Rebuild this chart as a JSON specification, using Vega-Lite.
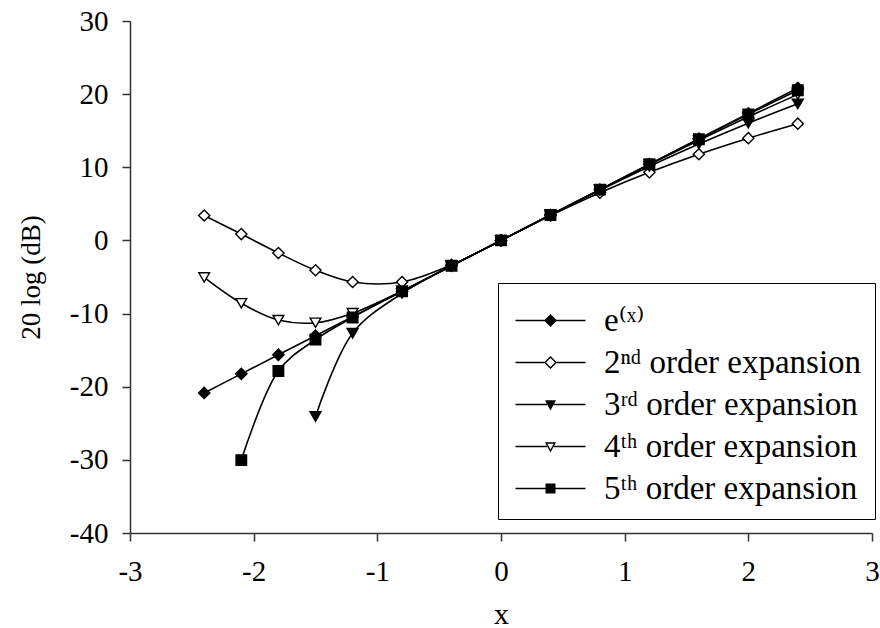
{
  "$schema": "https://vega.github.io/schema/vega-lite/v6.json",
  "width": 742,
  "height": 512,
  "autosize": "none",
  "padding": {"left": 130, "top": 21, "right": 8, "bottom": 95},
  "background": "white",
  "config": {
    "view": {"stroke": null},
    "font": "Liberation Serif",
    "axis": {
      "domainColor": "#333333",
      "domainWidth": 1.5,
      "tickColor": "#333333",
      "tickWidth": 1.5,
      "tickSize": 8,
      "grid": false,
      "labelFont": "Liberation Serif",
      "labelFontSize": 29,
      "labelColor": "black",
      "labelFlush": false,
      "labelOverlap": false,
      "titleFont": "Liberation Serif",
      "titleFontWeight": "normal",
      "titleColor": "black"
    },
    "legend": {
      "title": null,
      "orient": "none",
      "legendX": 368,
      "legendY": 262,
      "padding": 13,
      "strokeColor": "black",
      "fillColor": "white",
      "labelFont": "Liberation Serif, DejaVu Serif",
      "labelFontSize": 33,
      "labelColor": "black",
      "labelOffset": 29,
      "labelLimit": 400,
      "rowPadding": 0,
      "symbolSize": 2352,
      "symbolOffset": 15,
      "symbolOpacity": 1,
      "symbolFillColor": "black",
      "symbolStrokeWidth": 0
    }
  },
  "data": {
    "values": [
      {"series": "e", "x": -2.4, "y": -20.85},
      {"series": "e", "x": -2.1, "y": -18.24},
      {"series": "e", "x": -1.8, "y": -15.63},
      {"series": "e", "x": -1.5, "y": -13.03},
      {"series": "e", "x": -1.2, "y": -10.42},
      {"series": "e", "x": -0.8, "y": -6.95},
      {"series": "e", "x": -0.4, "y": -3.47},
      {"series": "e", "x": 0, "y": 0},
      {"series": "e", "x": 0.4, "y": 3.47},
      {"series": "e", "x": 0.8, "y": 6.95},
      {"series": "e", "x": 1.2, "y": 10.42},
      {"series": "e", "x": 1.6, "y": 13.9},
      {"series": "e", "x": 2.0, "y": 17.37},
      {"series": "e", "x": 2.4, "y": 20.85},
      {"series": "o2", "x": -2.4, "y": 3.41},
      {"series": "o2", "x": -2.1, "y": 0.87},
      {"series": "o2", "x": -1.8, "y": -1.72},
      {"series": "o2", "x": -1.5, "y": -4.08},
      {"series": "o2", "x": -1.2, "y": -5.68},
      {"series": "o2", "x": -0.8, "y": -5.68},
      {"series": "o2", "x": -0.4, "y": -3.35},
      {"series": "o2", "x": 0, "y": 0},
      {"series": "o2", "x": 0.4, "y": 3.41},
      {"series": "o2", "x": 0.8, "y": 6.53},
      {"series": "o2", "x": 1.2, "y": 9.31},
      {"series": "o2", "x": 1.6, "y": 11.78},
      {"series": "o2", "x": 2.0, "y": 13.98},
      {"series": "o2", "x": 2.4, "y": 15.96},
      {"series": "o3", "x": -1.5, "y": -24.08},
      {"series": "o3", "x": -1.2, "y": -12.69},
      {"series": "o3", "x": -0.8, "y": -7.24},
      {"series": "o3", "x": -0.4, "y": -3.49},
      {"series": "o3", "x": 0, "y": 0},
      {"series": "o3", "x": 0.4, "y": 3.47},
      {"series": "o3", "x": 0.8, "y": 6.87},
      {"series": "o3", "x": 1.2, "y": 10.12},
      {"series": "o3", "x": 1.6, "y": 13.18},
      {"series": "o3", "x": 2.0, "y": 16.03},
      {"series": "o3", "x": 2.4, "y": 18.67},
      {"series": "o4", "x": -2.4, "y": -5.06},
      {"series": "o4", "x": -2.1, "y": -8.59},
      {"series": "o4", "x": -1.8, "y": -10.89},
      {"series": "o4", "x": -1.5, "y": -11.26},
      {"series": "o4", "x": -1.2, "y": -9.94},
      {"series": "o4", "x": -0.8, "y": -6.9},
      {"series": "o4", "x": -0.4, "y": -3.47},
      {"series": "o4", "x": 0, "y": 0},
      {"series": "o4", "x": 0.4, "y": 3.47},
      {"series": "o4", "x": 0.8, "y": 6.94},
      {"series": "o4", "x": 1.2, "y": 10.36},
      {"series": "o4", "x": 1.6, "y": 13.69},
      {"series": "o4", "x": 2.0, "y": 16.9},
      {"series": "o4", "x": 2.4, "y": 19.97},
      {"series": "o5", "x": -2.1, "y": -30.03},
      {"series": "o5", "x": -1.8, "y": -17.86},
      {"series": "o5", "x": -1.5, "y": -13.55},
      {"series": "o5", "x": -1.2, "y": -10.53},
      {"series": "o5", "x": -0.8, "y": -6.96},
      {"series": "o5", "x": -0.4, "y": -3.47},
      {"series": "o5", "x": 0, "y": 0},
      {"series": "o5", "x": 0.4, "y": 3.47},
      {"series": "o5", "x": 0.8, "y": 6.95},
      {"series": "o5", "x": 1.2, "y": 10.41},
      {"series": "o5", "x": 1.6, "y": 13.84},
      {"series": "o5", "x": 2.0, "y": 17.23},
      {"series": "o5", "x": 2.4, "y": 20.53}
    ]
  },
  "encoding": {
    "x": {
      "field": "x",
      "type": "quantitative",
      "scale": {"domain": [-3, 3], "nice": false, "zero": false},
      "axis": {
        "values": [-3, -2, -1, 0, 1, 2, 3],
        "labelExpr": "'' + datum.value",
        "labelPadding": 16,
        "title": "x",
        "titleFontSize": 30,
        "titlePadding": 13
      }
    },
    "y": {
      "field": "y",
      "type": "quantitative",
      "scale": {"domain": [-40, 30], "nice": false, "zero": false},
      "axis": {
        "values": [-40, -30, -20, -10, 0, 10, 20, 30],
        "labelExpr": "'' + datum.value",
        "labelPadding": 14,
        "title": "20 log (dB)",
        "titleFontSize": 27,
        "titlePadding": 24
      }
    }
  },
  "resolve": {"scale": {"shape": "independent", "fill": "independent", "size": "independent"}, "legend": {"shape": "independent", "fill": "independent", "size": "independent"}},
  "layer": [
    {
      "mark": {"type": "line", "stroke": "black", "strokeWidth": 1.6, "interpolate": "catmull-rom"},
      "encoding": {"detail": {"field": "series", "type": "nominal"}}
    },
    {
      "mark": {"type": "point", "filled": true, "stroke": "black", "strokeWidth": 1.4, "opacity": 1},
      "encoding": {
        "shape": {
          "field": "series",
          "type": "nominal",
          "scale": {"domain": ["e", "o2", "o3", "o4", "o5"], "range": ["diamond", "diamond", "triangle-down", "triangle-down", "square"]},
          "legend": null
        },
        "fill": {
          "field": "series",
          "type": "nominal",
          "scale": {"domain": ["e", "o2", "o3", "o4", "o5"], "range": ["black", "white", "black", "white", "black"]},
          "legend": null
        },
        "size": {
          "field": "series",
          "type": "nominal",
          "scale": {"domain": ["e", "o2", "o3", "o4", "o5"], "range": [130, 110, 110, 100, 85]},
          "legend": null
        }
      }
    },
    {
      "mark": {"type": "point", "filled": true, "fill": "black", "opacity": 0},
      "encoding": {
        "shape": {
          "field": "series",
          "type": "nominal",
          "scale": {"domain": ["e", "o2", "o3", "o4", "o5"], "range": [
            "M-1.443,-0.031H-0.25V0.031H-1.443ZM0.25,-0.031H1.443V0.031H0.25ZM0,-0.268L0.268,0L0,0.268L-0.268,0Z",
            "M-1.443,-0.031H-0.26V0.031H-1.443ZM0.26,-0.031H1.443V0.031H0.26ZM0,-0.268L0.268,0L0,0.268L-0.268,0ZM0,-0.186L-0.186,0L0,0.186L0.186,0Z",
            "M-1.443,-0.031H-0.14V0.031H-1.443ZM0.14,-0.031H1.443V0.031H0.14ZM-0.227,-0.173H0.227L0,0.247Z",
            "M-1.443,-0.031H-0.14V0.031H-1.443ZM0.14,-0.031H1.443V0.031H0.14ZM-0.227,-0.173H0.227L0,0.247ZM-0.13,-0.115L0,0.125L0.13,-0.115Z",
            "M-1.443,-0.031H-0.2V0.031H-1.443ZM0.2,-0.031H1.443V0.031H0.2ZM-0.206,-0.206H0.206V0.206H-0.206Z"
          ]},
          "legend": {
            "labelExpr": "{'e': 'e⁽ˣ⁾', 'o2': '2ⁿᵈ order expansion', 'o3': '3ʳᵈ order expansion', 'o4': '4ᵗʰ order expansion', 'o5': '5ᵗʰ order expansion'}[datum.value]"
          }
        }
      }
    }
  ]
}
